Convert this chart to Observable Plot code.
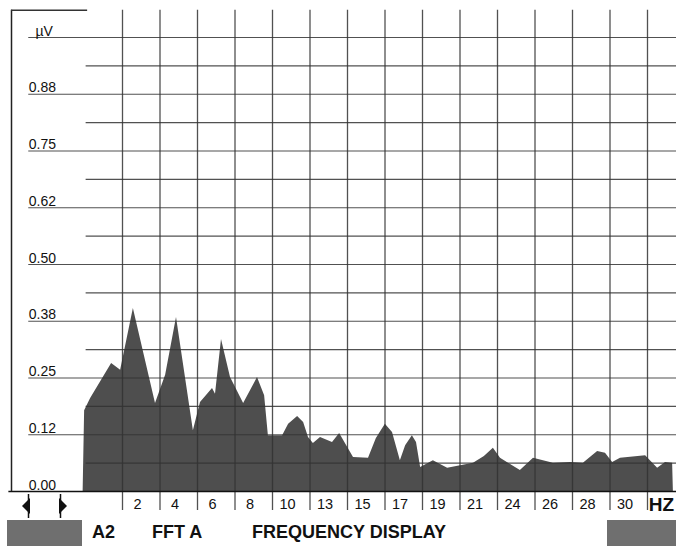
<!DOCTYPE html>
<html>
<head>
<meta charset="utf-8">
<script src="https://cdn.jsdelivr.net/npm/d3@7"></script>
<script src="https://cdn.jsdelivr.net/npm/@observablehq/plot@0.6"></script>
<style>
  html, body { margin: 0; padding: 0; background: #fff; }
  #wrap { position: relative; width: 676px; height: 546px; overflow: hidden; background: #fff; }
  #chart svg { display: block; }
  #arrows { position: absolute; left: 0; top: 490px; }
  #strip { position: absolute; left: 0; top: 518px; width: 676px; height: 28px; font-family: "Liberation Sans", Arial, sans-serif; font-weight: bold; font-size: 18px; line-height: 18px; color: #111; }
  #strip .box { position: absolute; top: 2px; height: 30px; background: #6f6f6f; }
  #strip .t { position: absolute; top: 5px; white-space: nowrap; }
</style>
</head>
<body>
<div id="wrap">
  <div id="chart"></div>
  <svg id="arrows" width="80" height="30">
    <polygon points="30,8 30,24 22,16" fill="#111"/>
    <line x1="28.5" y1="4" x2="28.5" y2="28" stroke="#111" stroke-width="1.5"/>
    <polygon points="59,8 59,24 67,16" fill="#111"/>
    <line x1="60.5" y1="4" x2="60.5" y2="28" stroke="#111" stroke-width="1.5"/>
  </svg>
  <div id="strip">
    <div class="box" style="left:7px;width:75px"></div>
    <div class="t" style="left:92px">A2</div>
    <div class="t" style="left:152px">FFT A</div>
    <div class="t" style="left:252px">FREQUENCY DISPLAY</div>
    <div class="box" style="left:607px;width:69px"></div>
  </div>
</div>
<script>
// Spectrum profile (x in display-bin units, amplitude in µV)
const bins = [-0.05, -0.01, 0.15, 0.71, 0.95, 1.29, 1.88, 2.15, 2.44, 2.89, 3.08, 3.40, 3.48, 3.64, 3.88, 4.23, 4.60, 4.79, 4.89, 5.27, 5.43, 5.67, 5.83, 5.96, 6.09, 6.28, 6.60, 6.79, 7.16, 7.56, 7.77, 8.01, 8.20, 8.41, 8.55, 8.73, 8.84, 8.95, 9.29, 9.67, 10.36, 10.65, 10.89, 11.08, 11.61, 11.96, 12.49, 12.95, 13.29, 13.67, 13.88, 14.07, 14.28, 14.95, 15.27, 15.48, 15.67, 15.69];
const amps = [0, 0.178, 0.205, 0.282, 0.267, 0.403, 0.194, 0.256, 0.383, 0.134, 0.196, 0.227, 0.214, 0.335, 0.251, 0.194, 0.251, 0.211, 0.123, 0.123, 0.148, 0.165, 0.152, 0.119, 0.106, 0.119, 0.108, 0.128, 0.075, 0.073, 0.117, 0.148, 0.130, 0.068, 0.101, 0.123, 0.108, 0.053, 0.068, 0.051, 0.062, 0.077, 0.095, 0.073, 0.046, 0.073, 0.062, 0.064, 0.062, 0.088, 0.084, 0.064, 0.073, 0.079, 0.051, 0.064, 0.062, 0];

// Axes
const xGridBins = [1, 2, 3, 4, 5, 6, 7, 8, 9, 10, 11, 12, 13, 14, 15];
const xTickLabels = ["2", "4", "6", "8", "10", "13", "15", "17", "19", "21", "24", "26", "28", "30"];
const xUnitLabel = "HZ";
const yTickValues = [0, 0.125, 0.25, 0.375, 0.5, 0.625, 0.75, 0.875, 1.0];
const yTickLabels = ["0.00", "0.12", "0.25", "0.38", "0.50", "0.62", "0.75", "0.88", "µV"];
const yMinorGrid = [0.0625, 0.1875, 0.3125, 0.4375, 0.5625, 0.6875, 0.8125, 0.9375];

const data = bins.map((b, i) => ({bin: b, amp: amps[i]}));
const xLabelData = xTickLabels.map((t, i) => ({bin: xGridBins[i] + 0.4, text: t}));
const yLabelData = yTickLabels.map((t, i) => ({v: yTickValues[i], text: t, unit: t === "µV"}));

const gridStroke = "#333";
const chart = Plot.plot({
  width: 676,
  height: 518,
  margin: 0,
  x: {domain: [0, 16], range: [84.5, 684.5], axis: null},
  y: {domain: [0, 1], range: [491, 37], axis: null},
  style: {background: "white", color: "#111", fontFamily: "'Liberation Sans', Arial, sans-serif"},
  marks: [
    Plot.areaY(data, {x: "bin", y: "amp", fill: "#4e4e4e", curve: "linear"}),
    Plot.ruleY(yMinorGrid, {x1: 0.03, x2: 15.9, stroke: gridStroke, strokeWidth: 1.2, strokeOpacity: 0.85}),
    Plot.ruleY(yTickValues.slice(1), {x1: -1.5, x2: 15.9, stroke: gridStroke, strokeWidth: 1.2, strokeOpacity: 0.85}),
    Plot.ruleX(xGridBins, {y1: -0.042, y2: 1.06, stroke: gridStroke, strokeWidth: 1.3, strokeOpacity: 0.85}),
    Plot.ruleY([0], {x1: -2.03, x2: 15.9, stroke: "#111", strokeWidth: 1.5}),
    Plot.ruleX([-1.96], {y1: 0, y2: 1.06, stroke: "#222", strokeWidth: 1.5}),
    Plot.ruleY([1.06], {x1: -1.96, x2: 0.07, stroke: "#333", strokeWidth: 1.3}),
    Plot.text(yLabelData, {x: d => d.unit ? -1.32 : -1.5, y: "v", text: "text", textAnchor: "start", lineAnchor: "bottom", dy: -2, fontSize: 14}),
    Plot.text(xLabelData, {x: "bin", y: 0, text: "text", dy: 13, lineAnchor: "middle", fontSize: 14.5, fontFamily: "'Liberation Sans Narrow', 'Liberation Sans', Arial, sans-serif"}),
    Plot.text([xUnitLabel], {x: 15.37, y: 0, text: d => d, dy: 13, lineAnchor: "middle", fontSize: 19, fontWeight: "bold", fontFamily: "'Liberation Sans Narrow', 'Liberation Sans', Arial, sans-serif"})
  ]
});
document.getElementById("chart").appendChild(chart);
</script>
</body>
</html>
